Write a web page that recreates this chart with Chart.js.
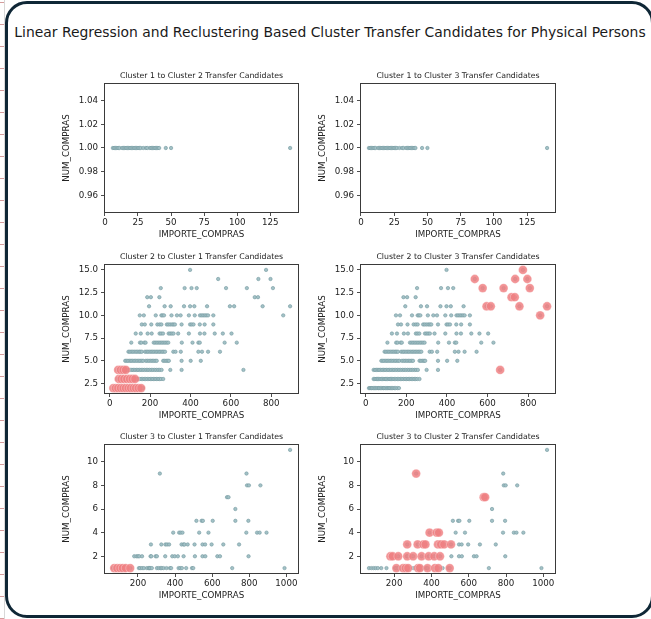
<!DOCTYPE html>
<html>
<head>
<meta charset="utf-8">
<title>Cluster Transfer Candidates</title>
<script src="https://cdn.jsdelivr.net/npm/chart.js@4.4.1/dist/chart.umd.min.js"></script>
<style>
    html, body { margin: 0; padding: 0; background: #fff; }
    body { width: 651px; height: 619px; position: relative; overflow: hidden; font-family: 'DejaVu Sans', sans-serif; }
    .margin {
        position: absolute; left: 0; top: 0; width: 4px; height: 619px;
        background: repeating-linear-gradient(to bottom, transparent 0, transparent 2px, #d49c9c 2px, #d49c9c 3px, transparent 3px, transparent 22px);
        border-right: 1px solid #d8d8d8;
    }
    .frame {
        position: absolute; left: 5px; top: 1px; width: 649px; height: 617px;
        box-sizing: border-box; border: 3px solid #0f2736; border-radius: 22px;
    }
    .suptitle {
        position: absolute; left: 0; top: 23px; width: 660px; text-align: center;
        font-size: 13.9px; line-height: 18px; color: #1a1a1a; white-space: nowrap;
    }
    canvas { position: absolute; }
</style>
</head>
<body>
<div class="margin"></div>
<div class="frame"></div>
<div class="suptitle">Linear Regression and Reclustering Based Cluster Transfer Candidates for Physical Persons</div>
<canvas id="p12" width="250" height="176" style="left:59px;top:67px"></canvas>
<canvas id="p13" width="251" height="176" style="left:315px;top:67px"></canvas>
<canvas id="p21" width="250" height="176" style="left:59px;top:248px"></canvas>
<canvas id="p23" width="251" height="176" style="left:315px;top:248px"></canvas>
<canvas id="p31" width="250" height="176" style="left:59px;top:428px"></canvas>
<canvas id="p32" width="251" height="176" style="left:315px;top:428px"></canvas>
<script>
// tick values per row of subplots
const xTicksTop = [0, 25, 50, 75, 100, 125];
const yTicksTop = [0.96, 0.98, 1.00, 1.02, 1.04];
const xTicksMid = [0, 200, 400, 600, 800];
const yTicksMid = [2.5, 5.0, 7.5, 10.0, 12.5, 15.0];
const xTicksLow = [200, 400, 600, 800, 1000];
const yTicksLow = [2, 4, 6, 8, 10];

// cluster 1 (NUM_COMPRAS levels, IMPORTE_COMPRAS per level)
const cluster1Num = [1];
const cluster1Importe = [
    [6, 7, 8, 9, 10, 11, 13, 14, 15, 16, 17, 18, 19, 20, 21, 22, 23, 24, 25, 26, 27, 29, 31, 32, 34, 35, 36, 37, 38, 39, 40, 41, 46, 50, 140]
];

// cluster 2
const cluster2Num = [2, 3, 4, 5, 6, 7, 8, 9, 10, 11, 12, 13, 14, 15];
const cluster2Importe = [
    [16, 21, 27, 31, 38, 44, 49, 55, 62, 66, 73, 79, 86, 90, 97, 104, 109, 115, 121, 128, 133, 141, 147, 156, 164],
    [39, 45, 52, 58, 63, 70, 77, 83, 90, 96, 101, 108, 115, 121, 127, 134, 141, 148, 156, 163, 171, 178, 186, 194, 201, 209, 216, 224, 231, 239, 246, 254, 265],
    [39, 46, 53, 60, 66, 73, 81, 88, 95, 102, 110, 117, 125, 133, 140, 148, 156, 164, 172, 181, 189, 197, 206, 214, 223, 231, 240, 248, 257, 300, 356, 662],
    [77, 84, 91, 99, 106, 113, 121, 128, 136, 144, 151, 159, 166, 179, 187, 195, 203, 211, 218, 226, 233, 265, 272, 280, 287, 293, 356, 401, 451],
    [93, 100, 108, 115, 123, 131, 138, 146, 152, 159, 175, 183, 190, 198, 206, 213, 221, 229, 236, 244, 251, 259, 266, 274, 315, 326, 352, 439, 457, 487, 546],
    [107, 150, 157, 172, 178, 218, 226, 234, 242, 250, 258, 266, 274, 282, 290, 357, 410, 439, 446, 569, 629],
    [129, 154, 188, 208, 247, 255, 264, 292, 300, 308, 316, 339, 392, 447, 469, 520, 560, 603],
    [159, 174, 206, 236, 247, 256, 283, 291, 300, 309, 316, 323, 356, 398, 406, 415, 446, 470, 513],
    [149, 169, 228, 256, 262, 269, 306, 333, 351, 392, 421, 447, 455, 463, 471, 479, 487, 513, 859],
    [195, 272, 302, 368, 398, 419, 482, 595, 616, 757, 893],
    [186, 204, 246, 718, 734],
    [253, 371, 405, 431, 576, 679, 808],
    [537, 736, 796],
    [398, 774]
];

// cluster 3
const cluster3Num = [1, 2, 3, 4, 5, 6, 7, 8, 9, 11];
const cluster3Importe = [
    [65, 78, 90, 101, 113, 131, 159, 205, 212, 222, 232, 248, 258, 262, 266, 275, 302, 312, 322, 328, 338, 354, 372, 379, 419, 428, 437, 460, 491, 498, 708, 990],
    [180, 192, 200, 207, 222, 268, 272, 295, 302, 347, 385, 398, 415, 446, 507, 548, 563, 628, 642, 796],
    [270, 326, 348, 357, 368, 435, 446, 451, 468, 505, 548, 562, 597, 660, 745],
    [390, 422, 430, 440, 530, 580, 784, 842, 856, 893],
    [515, 543, 550, 603, 725, 795],
    [725],
    [680, 688],
    [788, 798, 860],
    [318, 785],
    [1020]
];

// transfer candidates (highlighted)
const cand12Num = [];
const cand12Importe = [];
const cand13Num = [];
const cand13Importe = [];
const cand21Num = [2, 3, 4];
const cand21Importe = [
    [18, 30, 42, 55, 68, 80, 93, 105, 118, 130, 143, 156],
    [45, 58, 72, 86, 100, 113, 126],
    [42, 55, 68, 80]
];
const cand23Num = [4, 10, 11, 12, 13, 14, 15];
const cand23Importe = [
    [662],
    [859],
    [595, 616, 757, 893],
    [718, 734],
    [576, 679, 808],
    [537, 736, 796],
    [774]
];
const cand31Num = [1];
const cand31Importe = [
    [72, 88, 104, 118, 134, 158]
];
const cand32Num = [1, 2, 3, 4, 7, 9];
const cand32Importe = [
    [212, 248, 262, 275, 328, 338, 379, 419, 437, 498],
    [180, 192, 222, 270, 302, 347, 385, 415, 446],
    [270, 326, 357, 368, 435, 451, 468, 505],
    [390, 428, 440],
    [680, 688],
    [318]
];

Chart.defaults.font.family = 'DejaVu Sans';

const textColor = '#222';
const axisColor = '#3a3a3a';

function toPoints(num, importe) {
    return importe.flatMap((row, i) => row.map(x => ({x: x, y: num[i]})));
}

// matplotlib style box round the plot area, with the subplot title centred on it
const boxPlugin = {
    id: 'axesBox',
    afterDatasetsDraw(chart, args, opts) {
        const a = chart.chartArea;
        const ctx = chart.ctx;
        ctx.save();
        ctx.strokeStyle = axisColor;
        ctx.lineWidth = 1;
        ctx.strokeRect(Math.round(a.left) + 0.5, Math.round(a.top) + 0.5,
            Math.round(a.right - a.left) - 1, Math.round(a.bottom - a.top) - 1);
        ctx.fillStyle = textColor;
        ctx.font = '7.8px "DejaVu Sans"';
        ctx.textAlign = 'center';
        ctx.textBaseline = 'middle';
        ctx.fillText(opts.title, (a.left + a.right) / 2, a.top - 7);
        ctx.restore();
    }
};

function axisFont() {
    return {family: 'DejaVu Sans', size: 8.7, lineHeight: 1.2};
}

function scatterPlot(id, title, cluster, cand, xAxis, yAxis) {
    const ctx = document.getElementById(id);
    new Chart(ctx, {
        type: 'scatter',
        data: {
            datasets: [
                {
                    label: 'candidates',
                    data: toPoints(cand.num, cand.importe),
                    backgroundColor: 'rgba(240, 128, 130, 0.85)',
                    borderColor: 'rgba(255, 255, 255, 0.6)',
                    borderWidth: 0.5,
                    pointRadius: 4.4,
                    order: 0
                },
                {
                    label: 'cluster',
                    data: toPoints(cluster.num, cluster.importe),
                    backgroundColor: '#a2c1c6',
                    borderColor: '#73999f',
                    borderWidth: 0.6,
                    pointRadius: 1.7,
                    order: 1
                }
            ]
        },
        options: {
            responsive: false,
            animation: false,
            events: [],
            layout: {padding: {top: 16, right: 10, bottom: 0, left: 0}},
            plugins: {
                legend: {display: false},
                tooltip: {enabled: false},
                axesBox: {title: title}
            },
            scales: {
                x: {
                    type: 'linear',
                    position: 'bottom',
                    min: xAxis.min,
                    max: xAxis.max,
                    afterBuildTicks: s => { s.ticks = xAxis.ticks.map(v => ({value: v})); },
                    afterFit: s => { s.height = 30; },
                    ticks: {
                        color: textColor,
                        font: axisFont(),
                        padding: 2,
                        autoSkip: false,
                        maxRotation: 0,
                        callback: v => v.toFixed(xAxis.digits)
                    },
                    grid: {drawOnChartArea: false, tickLength: 3, color: axisColor, tickWidth: 0.9},
                    border: {display: false},
                    title: {
                        display: true,
                        text: 'IMPORTE_COMPRAS',
                        color: textColor,
                        font: axisFont(),
                        padding: {top: 0, bottom: 3}
                    }
                },
                y: {
                    type: 'linear',
                    min: yAxis.min,
                    max: yAxis.max,
                    afterBuildTicks: s => { s.ticks = yAxis.ticks.map(v => ({value: v})); },
                    afterFit: s => { s.width = 45; },
                    ticks: {
                        color: textColor,
                        font: axisFont(),
                        padding: 3,
                        autoSkip: false,
                        callback: v => v.toFixed(yAxis.digits)
                    },
                    grid: {drawOnChartArea: false, tickLength: 3, color: axisColor, tickWidth: 0.9},
                    border: {display: false},
                    title: {
                        display: true,
                        text: 'NUM_COMPRAS',
                        color: textColor,
                        font: axisFont(),
                        padding: {top: 3, bottom: 0}
                    }
                }
            }
        },
        plugins: [boxPlugin]
    });
}

const axesTop = {
    x: {min: -0.7, max: 146.7, ticks: xTicksTop, digits: 0},
    y: {min: 0.945, max: 1.055, ticks: yTicksTop, digits: 2}
};
const axesMid = {
    x: {min: -28, max: 937, ticks: xTicksMid, digits: 0},
    y: {min: 1.35, max: 15.65, ticks: yTicksMid, digits: 1}
};
const axesLow = {
    x: {min: 17, max: 1068, ticks: xTicksLow, digits: 0},
    y: {min: 0.5, max: 11.5, ticks: yTicksLow, digits: 0}
};

const c1 = {num: cluster1Num, importe: cluster1Importe};
const c2 = {num: cluster2Num, importe: cluster2Importe};
const c3 = {num: cluster3Num, importe: cluster3Importe};

scatterPlot('p12', 'Cluster 1 to Cluster 2 Transfer Candidates', c1,
    {num: cand12Num, importe: cand12Importe}, axesTop.x, axesTop.y);
scatterPlot('p13', 'Cluster 1 to Cluster 3 Transfer Candidates', c1,
    {num: cand13Num, importe: cand13Importe}, axesTop.x, axesTop.y);
scatterPlot('p21', 'Cluster 2 to Cluster 1 Transfer Candidates', c2,
    {num: cand21Num, importe: cand21Importe}, axesMid.x, axesMid.y);
scatterPlot('p23', 'Cluster 2 to Cluster 3 Transfer Candidates', c2,
    {num: cand23Num, importe: cand23Importe}, axesMid.x, axesMid.y);
scatterPlot('p31', 'Cluster 3 to Cluster 1 Transfer Candidates', c3,
    {num: cand31Num, importe: cand31Importe}, axesLow.x, axesLow.y);
scatterPlot('p32', 'Cluster 3 to Cluster 2 Transfer Candidates', c3,
    {num: cand32Num, importe: cand32Importe}, axesLow.x, axesLow.y);
</script>
</body>
</html>
